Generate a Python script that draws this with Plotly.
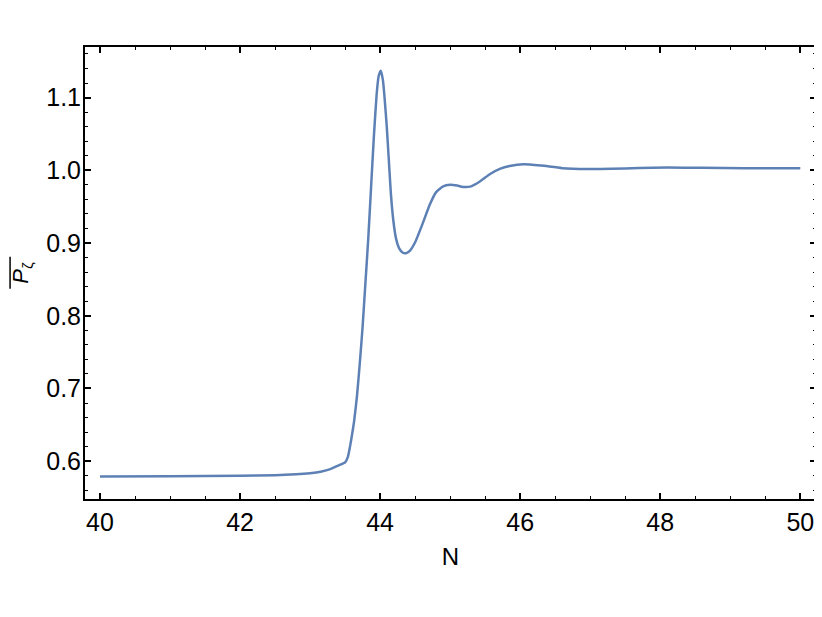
import plotly.graph_objects as go

# N values and averaged P_zeta
n_vals = [40.0, 41.0, 42.0, 42.5, 42.8, 43.0, 43.15, 43.3, 43.4, 43.5,
          43.54, 43.57, 43.6, 43.63, 43.67, 43.71, 43.75, 43.79, 43.83, 43.87,
          43.91, 43.95, 43.98, 44.01, 44.04, 44.06, 44.095, 44.124, 44.153, 44.19,
          44.23, 44.27, 44.32, 44.37, 44.43, 44.5, 44.6, 44.71, 44.8, 44.9, 45.0,
          45.1, 45.2, 45.3, 45.43, 45.57, 45.71, 45.85, 46.05, 46.3, 46.6,
          46.95, 47.3, 47.7, 48.1, 48.6, 49.2, 50.0]
p_vals = [0.579, 0.5793, 0.58, 0.5808, 0.582, 0.5835, 0.5855, 0.5895, 0.594, 0.5985,
          0.606, 0.62, 0.637, 0.656, 0.69, 0.735, 0.785, 0.845, 0.905, 0.975,
          1.045, 1.104, 1.13, 1.137, 1.124, 1.104, 1.06, 1.0145, 0.969, 0.93,
          0.905, 0.893, 0.887, 0.886, 0.89, 0.901, 0.925, 0.953, 0.97, 0.978, 0.98,
          0.979, 0.977, 0.978, 0.985, 0.995, 1.002, 1.006, 1.0085, 1.0065, 1.003,
          1.0017, 1.002, 1.0033, 1.0038, 1.0035, 1.003, 1.003]

x_ticks = [40, 42, 44, 46, 48, 50]
y_ticks = [0.6, 0.7, 0.8, 0.9, 1.0, 1.1]

FONT = "Liberation Sans, Arial"

fig = go.Figure()
fig.add_trace(go.Scatter(x=n_vals, y=p_vals, mode="lines",
                         line=dict(color="#5E81B5", width=2.5, shape="spline", smoothing=0.5),
                         showlegend=False))

axis_common = dict(showline=True, linecolor="black", linewidth=2, mirror="allticks",
                   ticks="inside", ticklen=6, tickwidth=1.5, tickcolor="black",
                   showgrid=False, zeroline=False, automargin=False,
                   tickfont=dict(family=FONT, size=25, color="black"))

fig.update_xaxes(range=[39.786, 50.224], tickvals=x_ticks,
                 minor=dict(ticks="inside", dtick=0.5, ticklen=3, tickwidth=1.2, tickcolor="black"),
                 title=dict(text="N", font=dict(family=FONT, size=24, color="black"), standoff=13),
                 **axis_common)
fig.update_yaxes(range=[0.548, 1.1696], tickvals=y_ticks, tickformat=".1f",
                 ticklabelstandoff=-3,
                 minor=dict(ticks="inside", dtick=0.02, ticklen=3, tickwidth=1.2, tickcolor="black"),
                 title=dict(text="<i>P</i><sub>ζ</sub>", font=dict(family=FONT, size=22, color="black"),
                            standoff=12),
                 **axis_common)

# overline above the P_zeta label
fig.add_shape(type="line", xref="paper", yref="paper",
              x0=-0.1025, x1=-0.1025, y0=0.465, y1=0.536,
              line=dict(color="black", width=1.5))

# margins shifted by the page's 8px body offset
fig.update_layout(width=822, height=617,
                  margin=dict(l=77, r=14, t=39, b=126),
                  plot_bgcolor="white", paper_bgcolor="white")

fig.write_html("out.html")
